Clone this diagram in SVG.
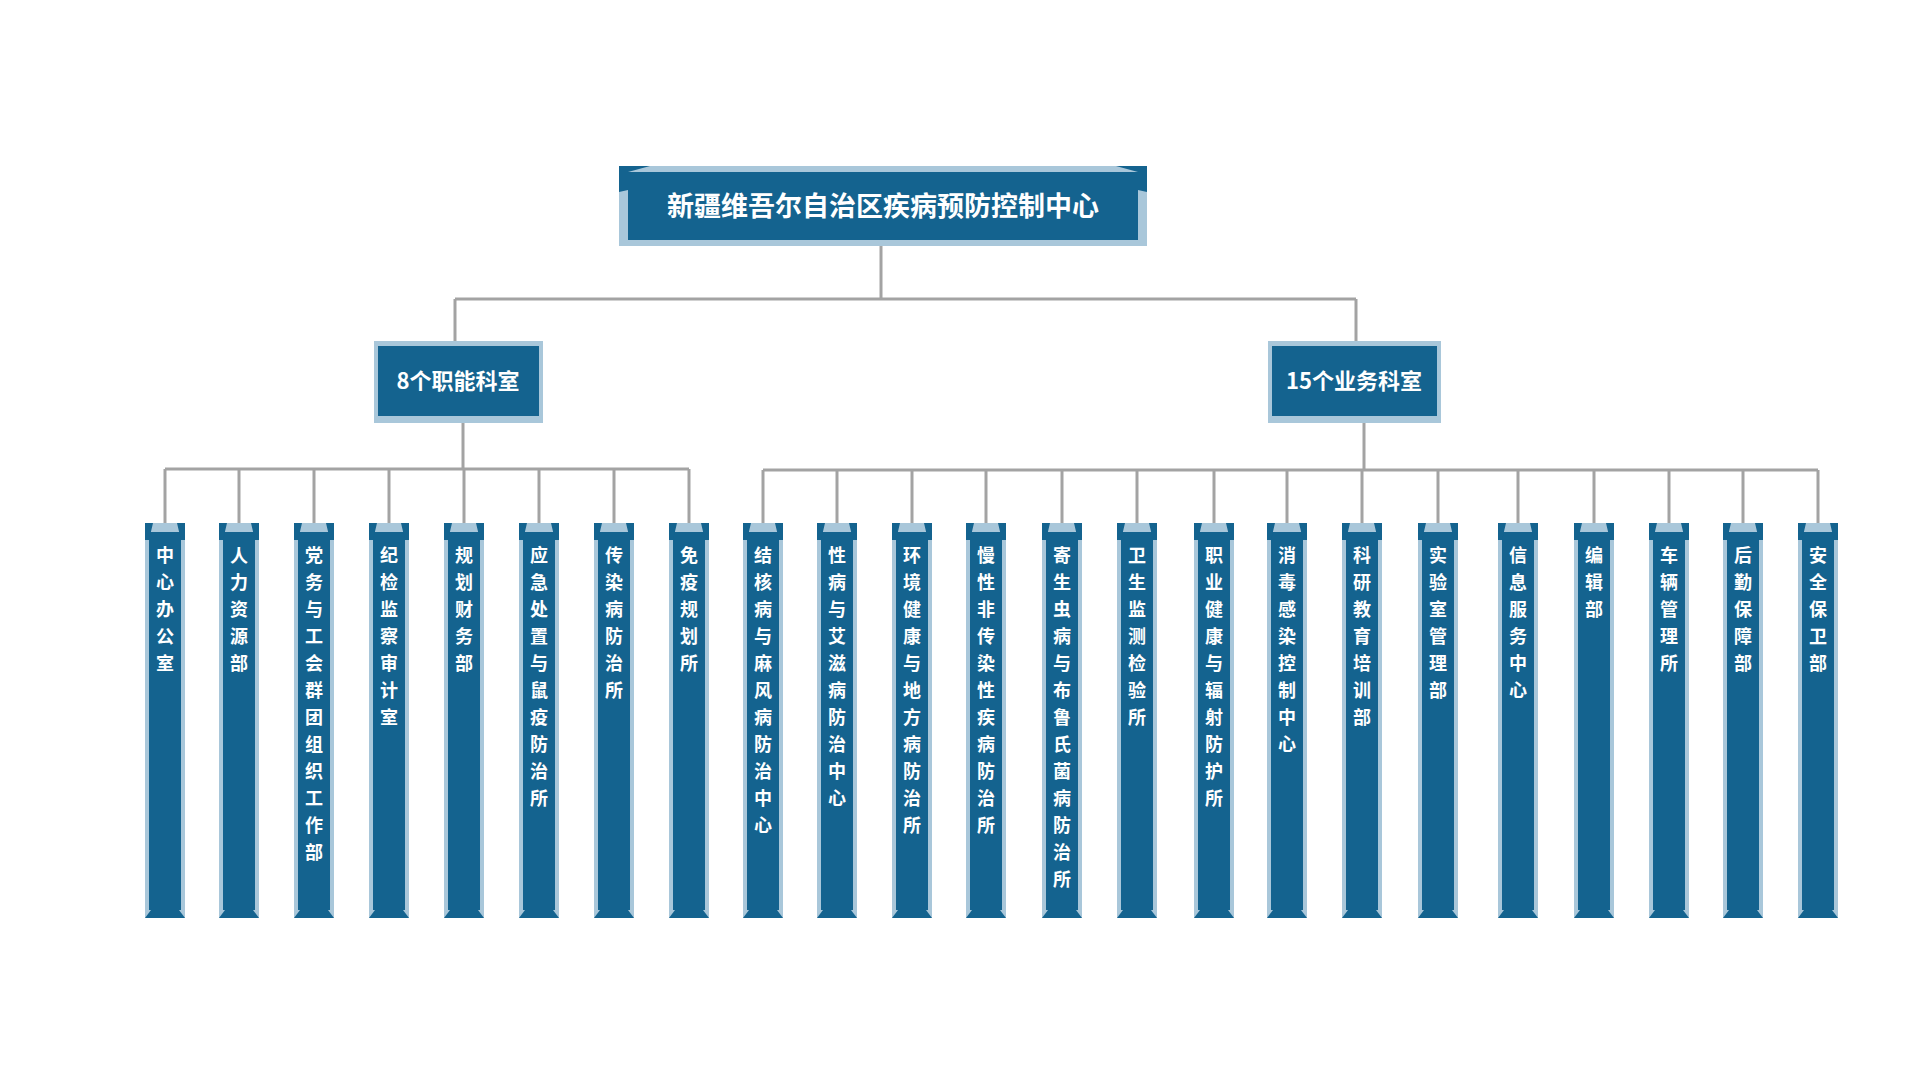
<svg xmlns="http://www.w3.org/2000/svg" width="1920" height="1080" viewBox="0 0 1920 1080">
<style>
.lt{fill:#a9c7da}.dk{fill:#14638f}
.ln{stroke:#a3a3a3;stroke-width:3;fill:none}
.t{font-family:"Noto Sans CJK SC",sans-serif;font-weight:bold;fill:#fff;text-anchor:middle}
.ct{font-size:18px}
</style>
<rect width="1920" height="1080" fill="#fff"/>
<g id="connectors" class="ln">
<path d="M881 246V299M455 299H1356M455 299V342M1356 299V342"/>
<path d="M463 423V469M165 469H689"/>
<path d="M165 469V525M239 469V525M314 469V525M389 469V525M464 469V525M539 469V525M614 469V525M689 469V525"/>
<path d="M1364 423V470M763 470H1818"/>
<path d="M763 470V525M837 470V525M912 470V525M986 470V525M1062 470V525M1137 470V525M1214 470V525M1287 470V525M1362 470V525M1438 470V525M1518 470V525M1594 470V525M1669 470V525M1743 470V525M1818 470V525"/>
</g>
<g id="root">
<rect class="lt" x="619" y="166" width="528" height="80"/>
<rect class="dk" x="628" y="172" width="510" height="68"/>
<path class="dk" d="M619 166H650L628 172V190L619 192Z M1147 166H1116L1138 172V190L1147 192Z"/>
<text class="t" x="883" y="216" font-size="27">新疆维吾尔自治区疾病预防控制中心</text>
</g>
<g id="n8">
<rect class="lt" x="374" y="341" width="169" height="82"/>
<rect class="dk" x="378" y="346" width="161" height="70"/>
<text class="t" x="458" y="389" font-size="22">8个职能科室</text>
</g>
<g id="n15">
<rect class="lt" x="1268" y="341" width="173" height="82"/>
<rect class="dk" x="1272" y="346" width="165" height="70"/>
<text class="t" x="1354" y="389" font-size="22">15个业务科室</text>
</g>
<defs>
<g id="col">
<rect class="lt" x="-20" y="523" width="40" height="395"/>
<rect class="dk" x="-16" y="532" width="32" height="378"/>
<path class="dk" d="M-20 523H-12L-16 540H-20Z M20 523H12L16 540H20Z M-20 918L-14 910H14L20 918Z"/>
</g>
</defs>
<g id="cols" class="t ct">
<g id="c1"><use href="#col" x="165"/><text x="165" y="562">中<tspan x="165" dy="27">心</tspan><tspan x="165" dy="27">办</tspan><tspan x="165" dy="27">公</tspan><tspan x="165" dy="27">室</tspan></text></g>
<g id="c2"><use href="#col" x="239"/><text x="239" y="562">人<tspan x="239" dy="27">力</tspan><tspan x="239" dy="27">资</tspan><tspan x="239" dy="27">源</tspan><tspan x="239" dy="27">部</tspan></text></g>
<g id="c3"><use href="#col" x="314"/><text x="314" y="562">党<tspan x="314" dy="27">务</tspan><tspan x="314" dy="27">与</tspan><tspan x="314" dy="27">工</tspan><tspan x="314" dy="27">会</tspan><tspan x="314" dy="27">群</tspan><tspan x="314" dy="27">团</tspan><tspan x="314" dy="27">组</tspan><tspan x="314" dy="27">织</tspan><tspan x="314" dy="27">工</tspan><tspan x="314" dy="27">作</tspan><tspan x="314" dy="27">部</tspan></text></g>
<g id="c4"><use href="#col" x="389"/><text x="389" y="562">纪<tspan x="389" dy="27">检</tspan><tspan x="389" dy="27">监</tspan><tspan x="389" dy="27">察</tspan><tspan x="389" dy="27">审</tspan><tspan x="389" dy="27">计</tspan><tspan x="389" dy="27">室</tspan></text></g>
<g id="c5"><use href="#col" x="464"/><text x="464" y="562">规<tspan x="464" dy="27">划</tspan><tspan x="464" dy="27">财</tspan><tspan x="464" dy="27">务</tspan><tspan x="464" dy="27">部</tspan></text></g>
<g id="c6"><use href="#col" x="539"/><text x="539" y="562">应<tspan x="539" dy="27">急</tspan><tspan x="539" dy="27">处</tspan><tspan x="539" dy="27">置</tspan><tspan x="539" dy="27">与</tspan><tspan x="539" dy="27">鼠</tspan><tspan x="539" dy="27">疫</tspan><tspan x="539" dy="27">防</tspan><tspan x="539" dy="27">治</tspan><tspan x="539" dy="27">所</tspan></text></g>
<g id="c7"><use href="#col" x="614"/><text x="614" y="562">传<tspan x="614" dy="27">染</tspan><tspan x="614" dy="27">病</tspan><tspan x="614" dy="27">防</tspan><tspan x="614" dy="27">治</tspan><tspan x="614" dy="27">所</tspan></text></g>
<g id="c8"><use href="#col" x="689"/><text x="689" y="562">免<tspan x="689" dy="27">疫</tspan><tspan x="689" dy="27">规</tspan><tspan x="689" dy="27">划</tspan><tspan x="689" dy="27">所</tspan></text></g>
<g id="r1"><use href="#col" x="763"/><text x="763" y="562">结<tspan x="763" dy="27">核</tspan><tspan x="763" dy="27">病</tspan><tspan x="763" dy="27">与</tspan><tspan x="763" dy="27">麻</tspan><tspan x="763" dy="27">风</tspan><tspan x="763" dy="27">病</tspan><tspan x="763" dy="27">防</tspan><tspan x="763" dy="27">治</tspan><tspan x="763" dy="27">中</tspan><tspan x="763" dy="27">心</tspan></text></g>
<g id="r2"><use href="#col" x="837"/><text x="837" y="562">性<tspan x="837" dy="27">病</tspan><tspan x="837" dy="27">与</tspan><tspan x="837" dy="27">艾</tspan><tspan x="837" dy="27">滋</tspan><tspan x="837" dy="27">病</tspan><tspan x="837" dy="27">防</tspan><tspan x="837" dy="27">治</tspan><tspan x="837" dy="27">中</tspan><tspan x="837" dy="27">心</tspan></text></g>
<g id="r3"><use href="#col" x="912"/><text x="912" y="562">环<tspan x="912" dy="27">境</tspan><tspan x="912" dy="27">健</tspan><tspan x="912" dy="27">康</tspan><tspan x="912" dy="27">与</tspan><tspan x="912" dy="27">地</tspan><tspan x="912" dy="27">方</tspan><tspan x="912" dy="27">病</tspan><tspan x="912" dy="27">防</tspan><tspan x="912" dy="27">治</tspan><tspan x="912" dy="27">所</tspan></text></g>
<g id="r4"><use href="#col" x="986"/><text x="986" y="562">慢<tspan x="986" dy="27">性</tspan><tspan x="986" dy="27">非</tspan><tspan x="986" dy="27">传</tspan><tspan x="986" dy="27">染</tspan><tspan x="986" dy="27">性</tspan><tspan x="986" dy="27">疾</tspan><tspan x="986" dy="27">病</tspan><tspan x="986" dy="27">防</tspan><tspan x="986" dy="27">治</tspan><tspan x="986" dy="27">所</tspan></text></g>
<g id="r5"><use href="#col" x="1062"/><text x="1062" y="562">寄<tspan x="1062" dy="27">生</tspan><tspan x="1062" dy="27">虫</tspan><tspan x="1062" dy="27">病</tspan><tspan x="1062" dy="27">与</tspan><tspan x="1062" dy="27">布</tspan><tspan x="1062" dy="27">鲁</tspan><tspan x="1062" dy="27">氏</tspan><tspan x="1062" dy="27">菌</tspan><tspan x="1062" dy="27">病</tspan><tspan x="1062" dy="27">防</tspan><tspan x="1062" dy="27">治</tspan><tspan x="1062" dy="27">所</tspan></text></g>
<g id="r6"><use href="#col" x="1137"/><text x="1137" y="562">卫<tspan x="1137" dy="27">生</tspan><tspan x="1137" dy="27">监</tspan><tspan x="1137" dy="27">测</tspan><tspan x="1137" dy="27">检</tspan><tspan x="1137" dy="27">验</tspan><tspan x="1137" dy="27">所</tspan></text></g>
<g id="r7"><use href="#col" x="1214"/><text x="1214" y="562">职<tspan x="1214" dy="27">业</tspan><tspan x="1214" dy="27">健</tspan><tspan x="1214" dy="27">康</tspan><tspan x="1214" dy="27">与</tspan><tspan x="1214" dy="27">辐</tspan><tspan x="1214" dy="27">射</tspan><tspan x="1214" dy="27">防</tspan><tspan x="1214" dy="27">护</tspan><tspan x="1214" dy="27">所</tspan></text></g>
<g id="r8"><use href="#col" x="1287"/><text x="1287" y="562">消<tspan x="1287" dy="27">毒</tspan><tspan x="1287" dy="27">感</tspan><tspan x="1287" dy="27">染</tspan><tspan x="1287" dy="27">控</tspan><tspan x="1287" dy="27">制</tspan><tspan x="1287" dy="27">中</tspan><tspan x="1287" dy="27">心</tspan></text></g>
<g id="r9"><use href="#col" x="1362"/><text x="1362" y="562">科<tspan x="1362" dy="27">研</tspan><tspan x="1362" dy="27">教</tspan><tspan x="1362" dy="27">育</tspan><tspan x="1362" dy="27">培</tspan><tspan x="1362" dy="27">训</tspan><tspan x="1362" dy="27">部</tspan></text></g>
<g id="r10"><use href="#col" x="1438"/><text x="1438" y="562">实<tspan x="1438" dy="27">验</tspan><tspan x="1438" dy="27">室</tspan><tspan x="1438" dy="27">管</tspan><tspan x="1438" dy="27">理</tspan><tspan x="1438" dy="27">部</tspan></text></g>
<g id="r11"><use href="#col" x="1518"/><text x="1518" y="562">信<tspan x="1518" dy="27">息</tspan><tspan x="1518" dy="27">服</tspan><tspan x="1518" dy="27">务</tspan><tspan x="1518" dy="27">中</tspan><tspan x="1518" dy="27">心</tspan></text></g>
<g id="r12"><use href="#col" x="1594"/><text x="1594" y="562">编<tspan x="1594" dy="27">辑</tspan><tspan x="1594" dy="27">部</tspan></text></g>
<g id="r13"><use href="#col" x="1669"/><text x="1669" y="562">车<tspan x="1669" dy="27">辆</tspan><tspan x="1669" dy="27">管</tspan><tspan x="1669" dy="27">理</tspan><tspan x="1669" dy="27">所</tspan></text></g>
<g id="r14"><use href="#col" x="1743"/><text x="1743" y="562">后<tspan x="1743" dy="27">勤</tspan><tspan x="1743" dy="27">保</tspan><tspan x="1743" dy="27">障</tspan><tspan x="1743" dy="27">部</tspan></text></g>
<g id="r15"><use href="#col" x="1818"/><text x="1818" y="562">安<tspan x="1818" dy="27">全</tspan><tspan x="1818" dy="27">保</tspan><tspan x="1818" dy="27">卫</tspan><tspan x="1818" dy="27">部</tspan></text></g>
</g>
</svg>
